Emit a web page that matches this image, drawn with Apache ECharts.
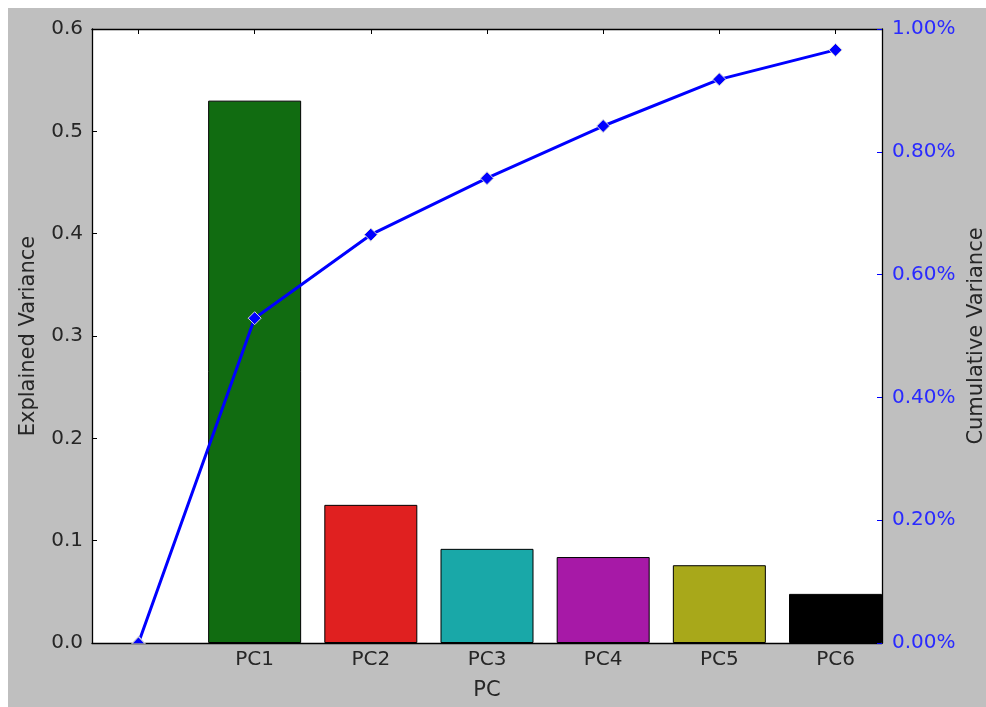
<!DOCTYPE html>
<html>
<head>
<meta charset="utf-8">
<script src="https://cdn.jsdelivr.net/npm/echarts@6/dist/echarts.min.js"></script>
<style>
  html, body { margin: 0; padding: 0; background: #ffffff; overflow: hidden; }
  #chart { position: absolute; left: 8px; top: 8px; width: 978px; height: 699px; }
</style>
</head>
<body>
<div id="chart"></div>
<script>
// ---- data ----
const categories = ['PC1', 'PC2', 'PC3', 'PC4', 'PC5', 'PC6'];
const explainedVariance = [0.530, 0.135, 0.092, 0.084, 0.076, 0.048];
const cumulativeVariance = [0.0, 0.529, 0.665, 0.757, 0.842, 0.918, 0.966];
const barColors = ['#116c11', '#e02020', '#19a8a8', '#a719a7', '#a8a81a', '#000000'];
const xTickLabels = [''].concat(categories);
const leftTicks = [0, 0.1, 0.2, 0.3, 0.4, 0.5, 0.6];
const rightTicks = [0, 0.2, 0.4, 0.6, 0.8, 1.0];

const FONT = 'DejaVu Sans';
const FS = 20;
const FS_NAME = 21;
const TXT = '#262626';
const BLUE_TXT = '#2a2aff';

const chart = echarts.init(document.getElementById('chart'), null, { renderer: 'canvas' });

const barData = explainedVariance.map((v, i) => ({
  value: [i + 1, v],
  itemStyle: { color: barColors[i] }
}));
const lineData = cumulativeVariance.map((v, i) => {
  const d = { value: [i, v] };
  if (i === 0) {
    d.symbol = 'triangle';
    d.symbolSize = [13, 7];
    d.symbolOffset = [0, -3];
  }
  return d;
});

const option = {
  backgroundColor: '#bfbfbf',
  animation: false,
  textStyle: { fontFamily: FONT },
  grid: {
    left: 84, top: 21, right: 104, bottom: 64,
    containLabel: false, outerBoundsMode: 'none',
    show: true, backgroundColor: '#ffffff', borderWidth: 0
  },
  xAxis: [
    {
      type: 'value', min: -0.4, max: 6.4, position: 'bottom',
      name: 'PC', nameLocation: 'middle', nameGap: 37,
      nameTextStyle: { fontFamily: FONT, fontSize: FS_NAME, color: TXT },
      axisLine: { show: true, onZero: false, lineStyle: { color: '#000', width: 1.3 } },
      axisTick: { show: true, inside: true, length: 5, customValues: [0, 1, 2, 3, 4, 5, 6], lineStyle: { color: '#000' } },
      axisLabel: {
        show: true, margin: 7, customValues: [1, 2, 3, 4, 5, 6],
        fontFamily: FONT, fontSize: FS, color: TXT,
        formatter: v => xTickLabels[Math.round(v)]
      },
      splitLine: { show: false }
    },
    {
      type: 'value', min: -0.4, max: 6.4, position: 'top',
      axisLine: { show: true, onZero: false, lineStyle: { color: '#000', width: 1.3 } },
      axisTick: { show: true, inside: true, length: 5, customValues: [0, 1, 2, 3, 4, 5, 6], lineStyle: { color: '#000' } },
      axisLabel: { show: false },
      splitLine: { show: false }
    }
  ],
  yAxis: [
    {
      type: 'value', min: 0, max: 0.6, interval: 0.1, position: 'left',
      name: 'Explained Variance', nameLocation: 'middle', nameGap: 53, nameRotate: 90,
      nameTextStyle: { fontFamily: FONT, fontSize: FS_NAME, color: TXT },
      axisLine: { show: true, onZero: false, lineStyle: { color: '#000', width: 1.3 } },
      axisTick: { show: true, inside: true, length: 5, customValues: leftTicks, lineStyle: { color: '#000' } },
      axisLabel: { margin: 9, fontFamily: FONT, fontSize: FS, color: TXT, customValues: leftTicks, formatter: v => v.toFixed(1) },
      splitLine: { show: false }
    },
    {
      type: 'value', min: 0, max: 1.0, interval: 0.2, position: 'right',
      name: 'Cumulative Variance', nameLocation: 'middle', nameGap: 84, nameRotate: 90,
      nameTextStyle: { fontFamily: FONT, fontSize: FS_NAME, color: TXT },
      axisLine: { show: true, onZero: false, lineStyle: { color: '#000', width: 1.3 } },
      axisTick: { show: true, inside: true, length: 5, customValues: rightTicks, lineStyle: { color: '#0000ff' } },
      axisLabel: { margin: 10, fontFamily: FONT, fontSize: FS, color: BLUE_TXT, customValues: rightTicks, formatter: v => v.toFixed(2) + '%' },
      splitLine: { show: false }
    }
  ],
  series: [
    {
      type: 'bar', xAxisIndex: 0, yAxisIndex: 0,
      data: barData, barWidth: 93,
      itemStyle: { borderColor: '#000', borderWidth: 1 },
      z: 2
    },
    {
      type: 'line', xAxisIndex: 0, yAxisIndex: 1,
      data: lineData,
      symbol: 'diamond', symbolSize: 13,
      lineStyle: { color: '#0000ff', width: 3 },
      itemStyle: { color: '#0000ff', borderColor: '#d8d8d8', borderWidth: 1 },
      clip: false,
      z: 5
    }
  ]
};
chart.setOption(option);
</script>
</body>
</html>
